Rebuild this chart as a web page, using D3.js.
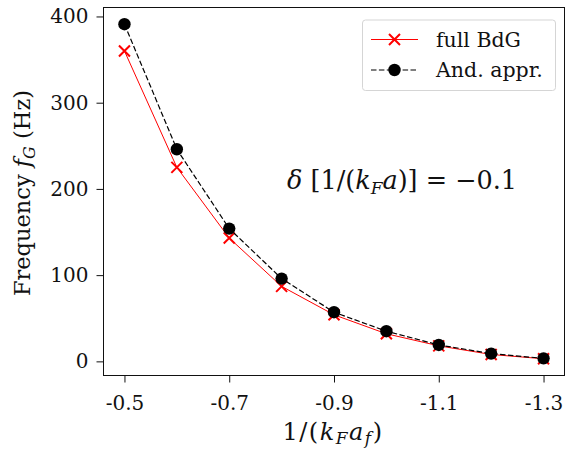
<!DOCTYPE html>
<html>
<head>
<meta charset="utf-8">
<script src="https://cdn.jsdelivr.net/npm/d3@7"></script>
<style>
  html, body { margin: 0; padding: 0; background: #fff; }
  svg text { font-family: "DejaVu Serif", "Liberation Serif", serif; fill: #111; }
</style>
</head>
<body>
<svg id="chart" width="569" height="449"></svg>
<script>
// Coupling values 1/(k_F a_f)
const coupling = [-0.5, -0.6, -0.7, -0.8, -0.9, -1.0, -1.1, -1.2, -1.3];
// Frequency f_G (Hz), full BdG calculation
const fullBdG = [360, 225, 143, 87, 54, 32, 18, 8, 3];
// Frequency f_G (Hz), Andreev approximation
const andreev = [391, 246, 154, 96, 57, 35, 19, 9, 3.5];
// Axis ticks
const xTicks = [-0.5, -0.7, -0.9, -1.1, -1.3];
const xTickLabels = ["-0.5", "-0.7", "-0.9", "-1.1", "-1.3"];
const yTicks = [0, 100, 200, 300, 400];

const FONT = "'DejaVu Serif', 'Liberation Serif', serif";
const svg = d3.select("#chart");
const plot = { left: 103.5, right: 564.5, top: 7.5, bottom: 375.5 };

const x = d3.scaleLinear().domain([-0.46, -1.34]).range([plot.left, plot.right]);
const y = d3.scaleLinear().domain([-16.4, 410.4]).range([plot.bottom, plot.top]);

// Axes
const xAxis = d3.axisBottom(x).tickValues(xTicks)
  .tickFormat((d, i) => xTickLabels[i]).tickSize(7);
const yAxis = d3.axisLeft(y).tickValues(yTicks).tickSize(7).tickPadding(8);

const gx = svg.append("g").attr("transform", `translate(0,${plot.bottom})`).call(xAxis);
const gy = svg.append("g").attr("transform", `translate(${plot.left},0)`).call(yAxis);
[gx, gy].forEach(g => {
  g.select(".domain").remove();
  g.selectAll(".tick line").attr("stroke", "#111").attr("stroke-width", 1);
  g.selectAll(".tick text").attr("font-size", 20).attr("fill", "#111")
    .style("font-family", FONT);
});
gx.selectAll(".tick text").attr("y", 34.5).attr("dy", 0);

// Frame
svg.append("rect")
  .attr("x", plot.left).attr("y", plot.top)
  .attr("width", plot.right - plot.left).attr("height", plot.bottom - plot.top)
  .attr("fill", "none").attr("stroke", "#111").attr("stroke-width", 1);

const line = d3.line().x(d => x(d[0])).y(d => y(d[1]));
const fullPts = coupling.map((c, i) => [c, fullBdG[i]]);
const andPts = coupling.map((c, i) => [c, andreev[i]]);

function crossPath(s) {
  return `M${-s},${-s}L${s},${s}M${-s},${s}L${s},${-s}`;
}

// full BdG: solid red with x markers
svg.append("path").datum(fullPts).attr("d", line)
  .attr("fill", "none").attr("stroke", "#ff0000").attr("stroke-width", 1);
svg.append("g").selectAll("path").data(fullPts).join("path")
  .attr("transform", d => `translate(${x(d[0])},${y(d[1])})`)
  .attr("d", crossPath(5.5))
  .attr("stroke", "#ff0000").attr("stroke-width", 2).attr("fill", "none");

// Andreev approximation: dashed black with filled circles
svg.append("path").datum(andPts).attr("d", line)
  .attr("fill", "none").attr("stroke", "#000").attr("stroke-width", 1.2)
  .attr("stroke-dasharray", "5.5,2.4");
svg.append("g").selectAll("circle").data(andPts).join("circle")
  .attr("cx", d => x(d[0])).attr("cy", d => y(d[1])).attr("r", 6.2)
  .attr("fill", "#000");

// Legend
const leg = svg.append("g");
leg.append("rect").attr("x", 362.5).attr("y", 20).attr("width", 193).attr("height", 70.5)
  .attr("rx", 3).attr("fill", "#fff").attr("fill-opacity", 0.8)
  .attr("stroke", "#d5d5d5").attr("stroke-width", 1);
const hx0 = 371, hx1 = 418, hxm = 394.5;
// row 1
leg.append("line").attr("x1", hx0).attr("x2", hx1).attr("y1", 39.5).attr("y2", 39.5)
  .attr("stroke", "#ff0000").attr("stroke-width", 1);
leg.append("path").attr("transform", `translate(${hxm},39.5)`).attr("d", crossPath(5.5))
  .attr("stroke", "#ff0000").attr("stroke-width", 2).attr("fill", "none");
leg.append("text").attr("x", 436).attr("y", 46.5)
  .attr("font-size", 20.5).text("full BdG");
// row 2
leg.append("line").attr("x1", hx0).attr("x2", hx1).attr("y1", 70).attr("y2", 70)
  .attr("stroke", "#000").attr("stroke-width", 1.2).attr("stroke-dasharray", "5.5,2.4");
leg.append("circle").attr("cx", hxm).attr("cy", 70).attr("r", 6.2).attr("fill", "#000");
leg.append("text").attr("x", 436).attr("y", 77)
  .attr("font-size", 20.5).text("And. appr.");

// Annotation
const ann = svg.append("text").attr("x", 287).attr("y", 188.5).attr("font-size", 25.5);
ann.append("tspan").attr("font-style", "italic").text("δ");
ann.append("tspan").text(" [1/(");
ann.append("tspan").attr("font-style", "italic").text("k");
ann.append("tspan").attr("font-style", "italic").attr("font-size", 17).attr("dy", 5).text("F");
ann.append("tspan").attr("font-style", "italic").attr("dy", -5).text("a");
ann.append("tspan").text(")] = −0.1");

// X axis label
const xl = svg.append("text").attr("x", 333).attr("y", 439.5).attr("text-anchor", "middle")
  .attr("font-size", 24).attr("letter-spacing", 1.5);
xl.append("tspan").text("1/(");
xl.append("tspan").attr("font-style", "italic").text("k");
xl.append("tspan").attr("font-style", "italic").attr("font-size", 17).attr("dy", 4.5).text("F");
xl.append("tspan").attr("font-style", "italic").attr("dy", -4.5).text("a");
xl.append("tspan").attr("font-style", "italic").attr("font-size", 17).attr("dy", 4.5).text("f");
xl.append("tspan").attr("dy", -4.5).text(")");

// Y axis label
const yl = svg.append("text").attr("transform", "translate(30,193) rotate(-90)")
  .attr("text-anchor", "middle").attr("font-size", 22.5);
yl.append("tspan").text("Frequency ");
yl.append("tspan").attr("font-style", "italic").text("f");
yl.append("tspan").attr("font-style", "italic").attr("font-size", 16).attr("dy", 4.5).text("G");
yl.append("tspan").attr("dy", -4.5).text(" (Hz)");
</script>
</body>
</html>
